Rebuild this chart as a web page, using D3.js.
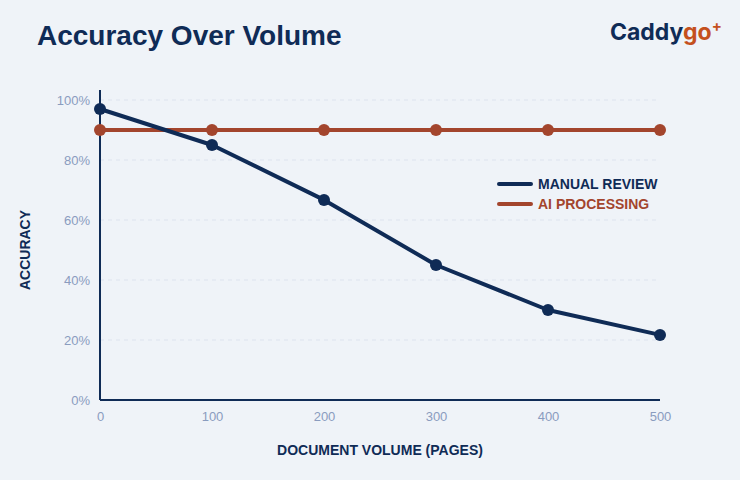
<!DOCTYPE html>
<html lang="en">
<head>
<meta charset="UTF-8">
<title>Accuracy Over Volume</title>
<style>
  html,body{margin:0;padding:0;background:#eff3f8;}
  svg{display:block;font-family:"Liberation Sans",Arial,sans-serif;}
</style>
<script src="https://cdn.jsdelivr.net/npm/d3@7"></script>
</head>
<body>
<div id="chart"></div>
<script>
// data
var volumes = [0, 100, 200, 300, 400, 500];
var manualReview = [97, 85, 66.7, 45, 30, 21.7];
var aiProcessing = [90, 90, 90, 90, 90, 90];
var yTicks = [0, 20, 40, 60, 80, 100];
var seriesNames = ["MANUAL REVIEW", "AI PROCESSING"];

var W = 740, H = 480;
var navy = "#0f2b56", rust = "#a3452d", tickCol = "#8a9cbf", gridCol = "#dde4ee";

var svg = d3.select("#chart").append("svg")
    .attr("width", W).attr("height", H);

svg.append("rect").attr("width", W).attr("height", H).attr("fill", "#eff3f8");

// title
svg.append("text")
    .attr("x", 37).attr("y", 45)
    .attr("font-size", 28).attr("font-weight", "bold")
    .attr("fill", navy)
    .text("Accuracy Over Volume");

// logo
var logo = svg.append("text")
    .attr("x", 610).attr("y", 40)
    .attr("font-size", 23).attr("font-weight", "bold")
    .attr("font-family", "Inter, 'Noto Sans', sans-serif");
logo.append("tspan").attr("fill", navy).text("Caddy");
logo.append("tspan").attr("fill", "#c4501e").text("go");
logo.append("tspan").attr("fill", "#c4501e").attr("font-size", 15).attr("dy", -9).text("+");

var x = d3.scaleLinear().domain([0, 500]).range([100, 660]);
var y = d3.scaleLinear().domain([0, 100]).range([400, 100]);

// grid
svg.append("g").selectAll("line")
    .data(yTicks.filter(function(d){ return d > 0; }))
    .enter().append("line")
    .attr("x1", 100).attr("x2", 660)
    .attr("y1", function(d){ return y(d); })
    .attr("y2", function(d){ return y(d); })
    .attr("stroke", gridCol).attr("stroke-width", 1.2)
    .attr("stroke-dasharray", "4,4");

// y axis
var yAxis = svg.append("g")
    .attr("transform", "translate(100,0)")
    .call(d3.axisLeft(y).tickValues(yTicks).tickSize(0).tickPadding(10)
        .tickFormat(function(d){ return d + "%"; }));
yAxis.select(".domain").remove();
yAxis.selectAll("text").attr("fill", tickCol).attr("font-size", 13)
    .attr("font-family", "'Liberation Sans',Arial,sans-serif");
svg.append("line").attr("x1", 100).attr("x2", 100).attr("y1", 90).attr("y2", 400)
    .attr("stroke", navy).attr("stroke-width", 2);

// x axis
var xAxis = svg.append("g")
    .attr("transform", "translate(0,400)")
    .call(d3.axisBottom(x).tickValues(volumes).tickSize(0).tickPadding(12));
xAxis.select(".domain").remove();
xAxis.selectAll("text").attr("fill", tickCol).attr("font-size", 13)
    .attr("font-family", "'Liberation Sans',Arial,sans-serif");
svg.append("line").attr("x1", 100).attr("x2", 660).attr("y1", 400).attr("y2", 400)
    .attr("stroke", navy).attr("stroke-width", 2);

// axis titles
svg.append("text")
    .attr("x", 380).attr("y", 455)
    .attr("text-anchor", "middle")
    .attr("font-size", 14).attr("font-weight", "bold").attr("fill", navy)
    .text("DOCUMENT VOLUME (PAGES)");
svg.append("text")
    .attr("transform", "translate(30,250) rotate(-90)")
    .attr("text-anchor", "middle")
    .attr("font-size", 14).attr("font-weight", "bold").attr("fill", navy)
    .text("ACCURACY");

var series = [
    {name: seriesNames[0], values: manualReview, color: navy},
    {name: seriesNames[1], values: aiProcessing, color: rust}
];

var line = d3.line()
    .x(function(d, i){ return x(volumes[i]); })
    .y(function(d){ return y(d); });

// draw AI first, manual on top
series.slice().reverse().forEach(function(s){
    svg.append("path")
        .attr("d", line(s.values))
        .attr("fill", "none")
        .attr("stroke", s.color)
        .attr("stroke-width", 4)
        .attr("stroke-linejoin", "round");
    svg.append("g").selectAll("circle")
        .data(s.values).enter().append("circle")
        .attr("cx", function(d, i){ return x(volumes[i]); })
        .attr("cy", function(d){ return y(d); })
        .attr("r", 6)
        .attr("fill", s.color);
});

// legend
var leg = svg.append("g").selectAll("g")
    .data(series).enter().append("g")
    .attr("transform", function(d, i){ return "translate(499," + (184 + i * 20) + ")"; });
leg.append("line")
    .attr("x1", 0).attr("x2", 32)
    .attr("stroke", function(d){ return d.color; })
    .attr("stroke-width", 4).attr("stroke-linecap", "round");
leg.append("text")
    .attr("x", 39).attr("dy", "0.35em")
    .attr("font-size", 14).attr("font-weight", "bold")
    .attr("fill", function(d){ return d.color; })
    .text(function(d){ return d.name; });
</script>
</body>
</html>
